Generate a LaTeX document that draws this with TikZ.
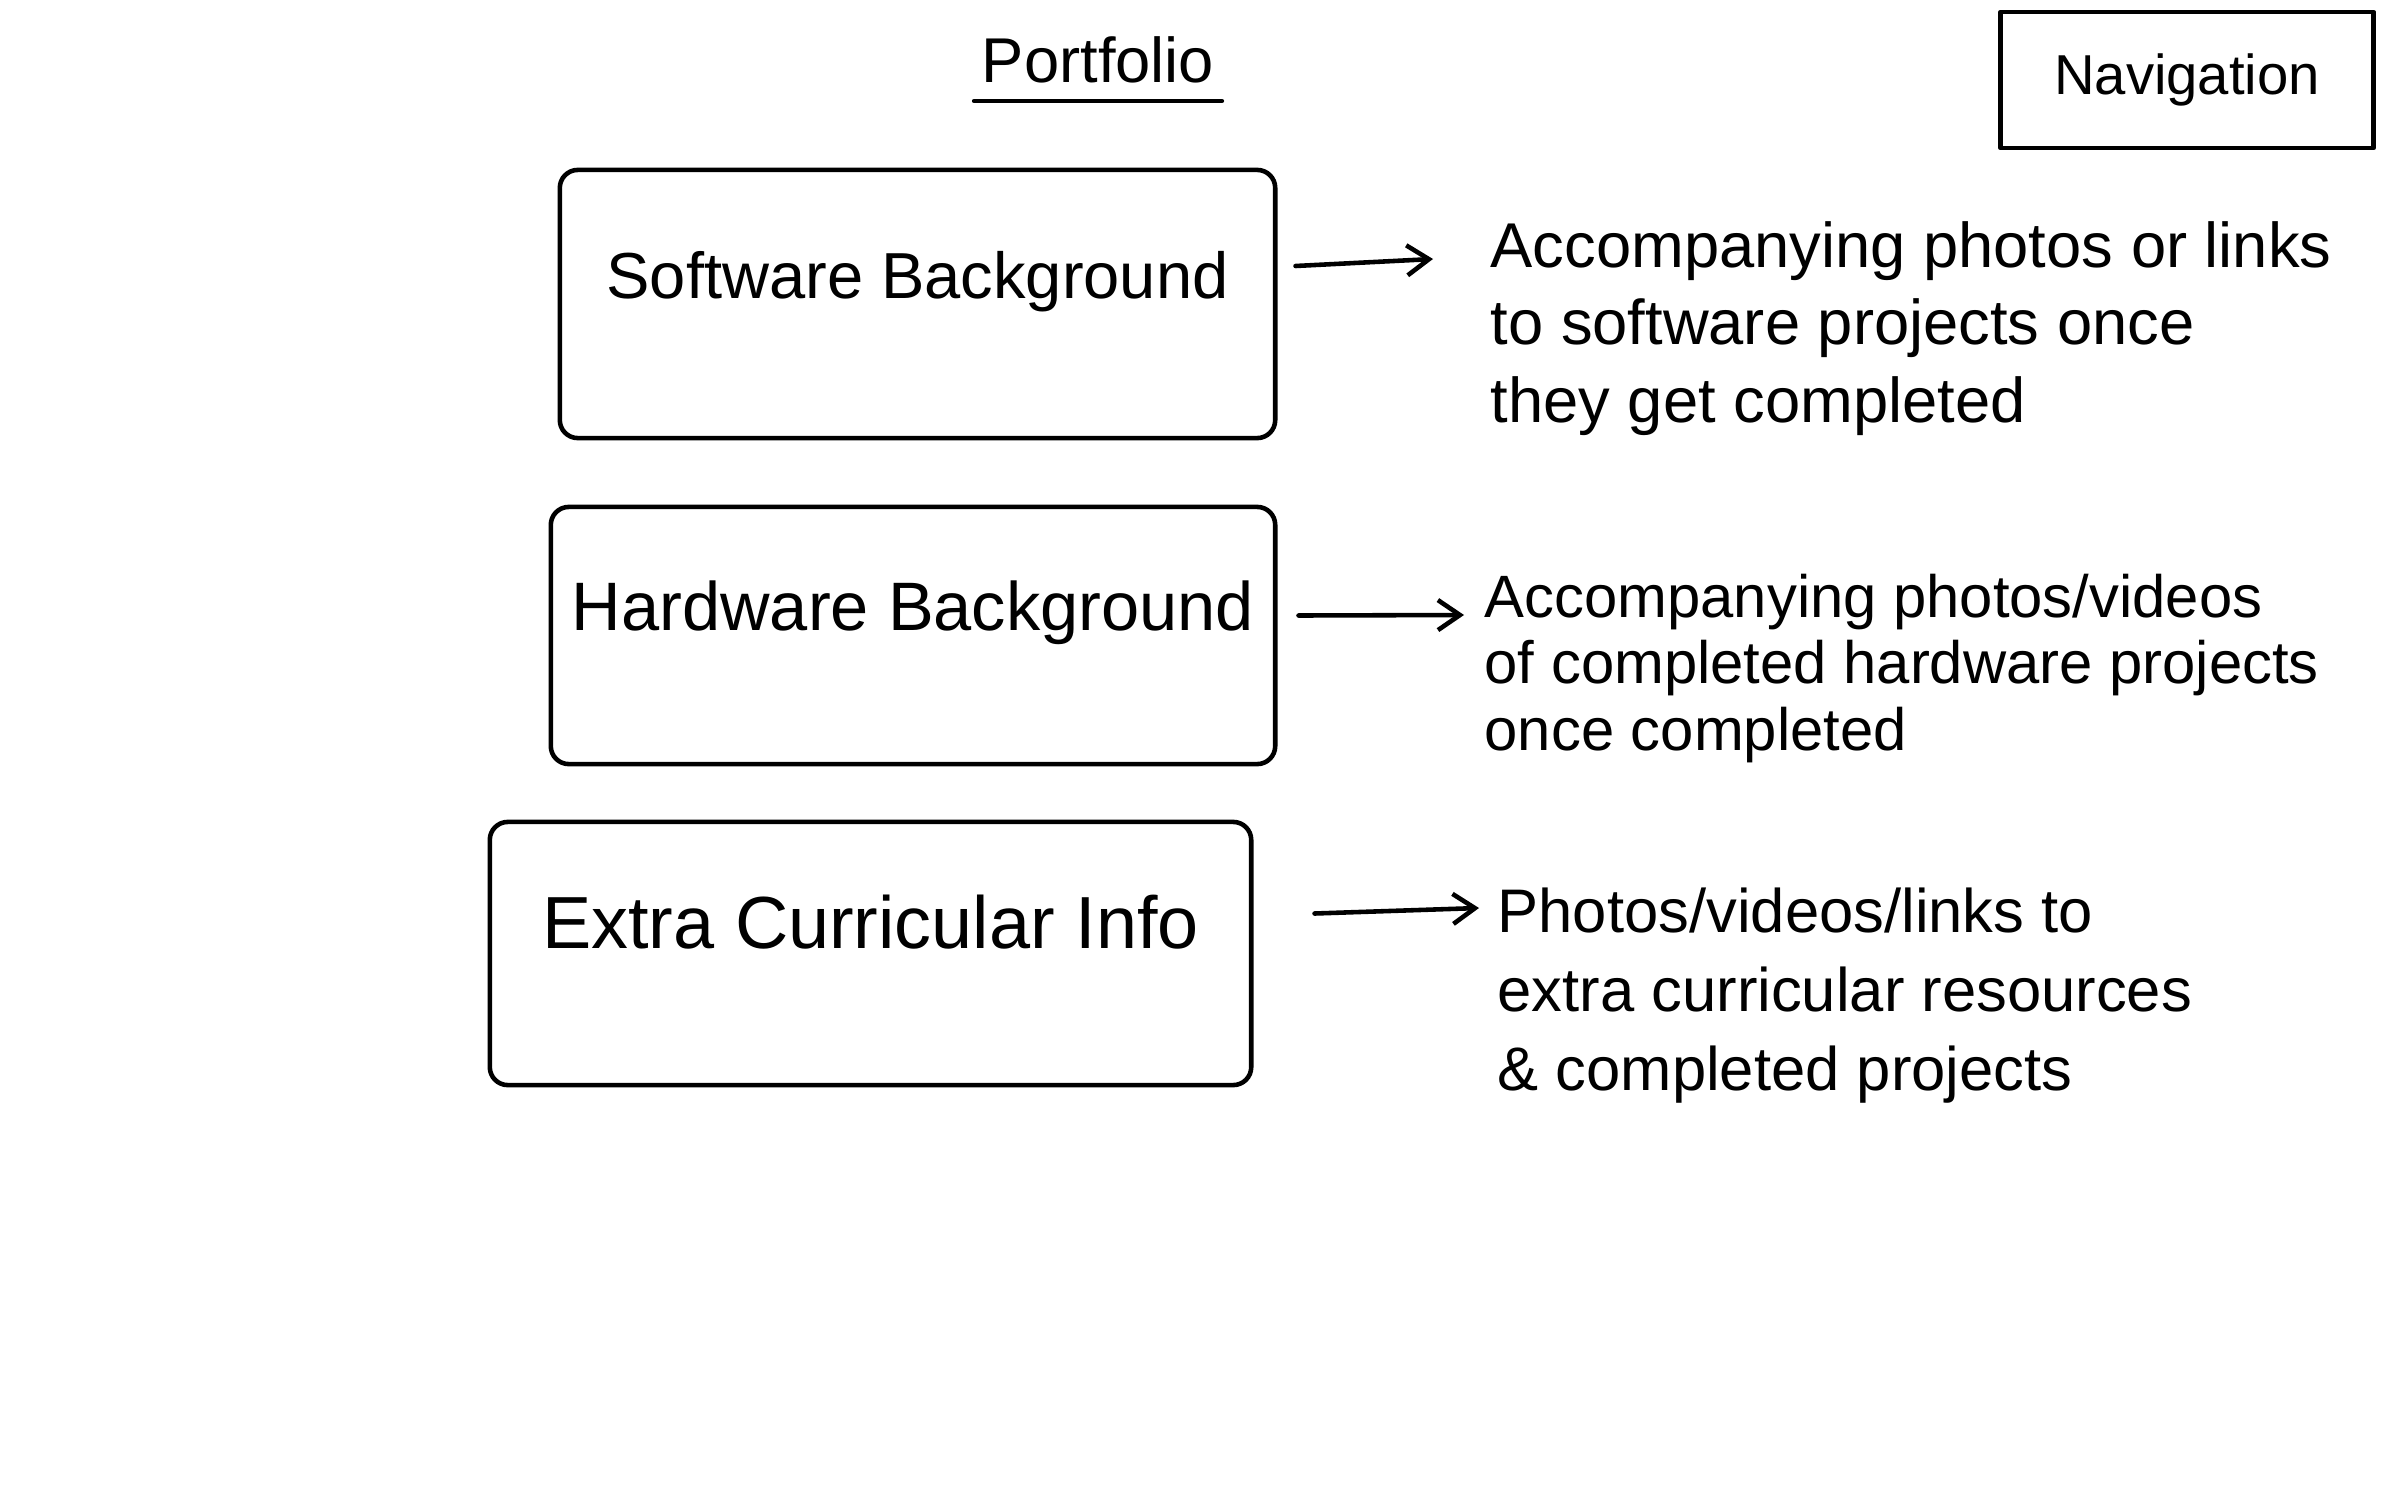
\documentclass[tikz,border=0pt]{standalone}
\usepackage{fontspec}
\setmainfont{Liberation Sans}
\usetikzlibrary{arrows.meta,calc}
\begin{document}
\begin{tikzpicture}[x=0.01cm,y=-0.01cm,
  ink/.style={line width=1.3pt, line cap=round, line join=round},
  box/.style={ink, draw, rounded corners=0.18cm, inner sep=0pt, text height=0.6cm, text depth=0.7cm},
  note/.style={anchor=north west, inner sep=0pt, align=left},
  arr/.style={ink, -{Straight Barb[length=0.22cm,width=0.3cm]}}]
\useasboundingbox[fill=white] (0,0) rectangle (2386,1491);

\node[font=\fontsize{18}{22}\selectfont, inner sep=2pt] (p) at (1098,60) {Portfolio};
\draw[ink] ([yshift=-0.1cm]p.south west) -- ([yshift=-0.1cm]p.south east);

\node[ink, draw, minimum width=3.73cm, minimum height=1.36cm, font=\fontsize{16}{20}\selectfont] (n) at (2187,80) {Navigation};

\node[box, minimum width=7.15cm, minimum height=2.68cm, font=\fontsize{18.5}{22}\selectfont] (b1) at (917.5,304) {Software Background};
\node[box, minimum width=7.24cm, minimum height=2.57cm, font=\fontsize{19.5}{23}\selectfont] (b2) at (913,635.5) {Hardware Background};
\node[box, minimum width=7.61cm, minimum height=2.63cm, font=\fontsize{21}{25}\selectfont] (b3) at (870.5,953.5) {Extra Curricular Info};

\node[note, font=\fontsize{18}{22}\selectfont] (t1) at (1490,221) {Accompanying photos or links\\to software projects once\\they get completed};
\node[note, font=\fontsize{17}{19}\selectfont] (t2) at (1484,573) {Accompanying photos/videos\\of completed hardware projects\\once completed};
\node[note, font=\fontsize{17.5}{22.5}\selectfont] (t3) at (1497,887) {Photos/videos/links to\\extra curricular resources\\\& completed projects};

\draw[arr] ($(b1.east)+(18,-38)$) -- ($(t1.north west)+(-57,38)$);
\draw[arr] ($(b2.east)+(21,-20)$) -- ($(t2.north west)+(-20,42)$);
\draw[arr] ($(b3.east)+(61,-40)$) -- ($(t3.north west)+(-18,21)$);
\end{tikzpicture}
\end{document}
